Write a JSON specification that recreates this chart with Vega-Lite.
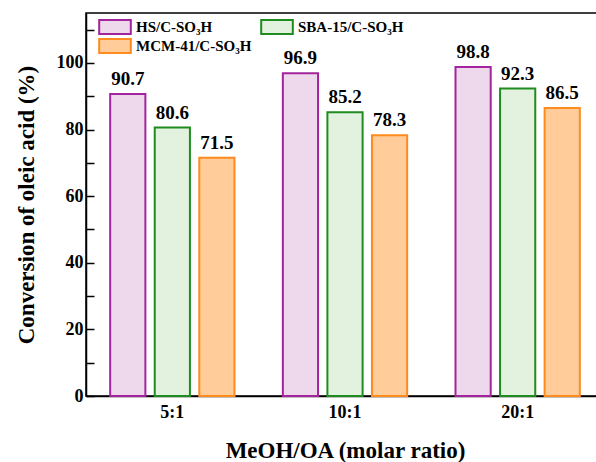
{
  "$schema": "https://vega.github.io/schema/vega-lite/v6.json",
  "autosize": "none",
  "padding": {"left": 86, "top": 13, "right": 0, "bottom": 66},
  "width": 518,
  "height": 383,
  "background": "white",
  "config": {
    "font": "Liberation Serif",
    "view": {"stroke": "black", "strokeWidth": 1.5}
  },
  "data": {
    "values": [
      {"ratio": "5:1", "catalyst": "HS/C-SO₃H", "value": 90.7},
      {"ratio": "5:1", "catalyst": "SBA-15/C-SO₃H", "value": 80.6},
      {"ratio": "5:1", "catalyst": "MCM-41/C-SO₃H", "value": 71.5},
      {"ratio": "10:1", "catalyst": "HS/C-SO₃H", "value": 96.9},
      {"ratio": "10:1", "catalyst": "SBA-15/C-SO₃H", "value": 85.2},
      {"ratio": "10:1", "catalyst": "MCM-41/C-SO₃H", "value": 78.3},
      {"ratio": "20:1", "catalyst": "HS/C-SO₃H", "value": 98.8},
      {"ratio": "20:1", "catalyst": "SBA-15/C-SO₃H", "value": 92.3},
      {"ratio": "20:1", "catalyst": "MCM-41/C-SO₃H", "value": 86.5}
    ]
  },
  "encoding": {
    "x": {
      "field": "ratio", "type": "nominal", "sort": ["5:1", "10:1", "20:1"],
      "scale": {"paddingInner": 0.28, "paddingOuter": 0.14},
      "axis": {
        "title": "MeOH/OA (molar ratio)", "titleFontSize": 23, "titleFontWeight": "bold",
        "titleFont": "Liberation Serif", "titlePadding": 18, "titleColor": "black",
        "labelAngle": 0, "labelFontSize": 18, "labelFontWeight": "bold", "labelColor": "black",
        "labelFont": "Liberation Serif", "labelPadding": 7,
        "ticks": false, "domainColor": "black", "domainWidth": 1.5
      }
    },
    "xOffset": {
      "field": "catalyst", "type": "nominal",
      "sort": ["HS/C-SO₃H", "SBA-15/C-SO₃H", "MCM-41/C-SO₃H"],
      "scale": {"paddingInner": 0.21, "paddingOuter": 0}
    },
    "y": {
      "field": "value", "type": "quantitative",
      "scale": {"domain": [0, 115], "nice": false},
      "axis": {
        "title": "Conversion of oleic acid (%)", "titleFontSize": 23, "titleFontWeight": "bold",
        "titleFont": "Liberation Serif", "titleColor": "black", "titlePadding": 18,
        "values": [0, 10, 20, 30, 40, 50, 60, 70, 80, 90, 100, 110],
        "labelExpr": "datum.value % 20 === 0 ? datum.label : ''",
        "labelFontSize": 18, "labelFontWeight": "bold", "labelColor": "black",
        "labelFont": "Liberation Serif", "labelPadding": 11,
        "tickSize": -8,
        "tickColor": "black", "tickWidth": 1.5,
        "grid": false, "domainColor": "black", "domainWidth": 1.5
      }
    }
  },
  "layer": [
    {
      "mark": {"type": "bar", "strokeWidth": 2},
      "encoding": {
        "fill": {
          "field": "catalyst", "type": "nominal",
          "sort": ["HS/C-SO₃H", "SBA-15/C-SO₃H", "MCM-41/C-SO₃H"],
          "scale": {"domain": ["HS/C-SO₃H", "SBA-15/C-SO₃H", "MCM-41/C-SO₃H"], "range": ["#eed8ec", "#e2f2df", "#ffcc9a"]},
          "legend": {
            "title": null, "orient": "none", "legendX": 12, "legendY": -3, "direction": "horizontal",
            "columns": 2, "gridAlign": "none", "columnPadding": 5, "rowPadding": -9,
            "symbolType": "M-1,-0.44L1,-0.44L1,0.44L-1,0.44Z", "symbolSize": 1000,
            "symbolStrokeWidth": 2, "labelFontSize": 15, "labelFontWeight": "bold",
            "labelFont": "Liberation Serif", "labelColor": "black", "labelOffset": 4
          }
        },
        "stroke": {
          "field": "catalyst", "type": "nominal",
          "sort": ["HS/C-SO₃H", "SBA-15/C-SO₃H", "MCM-41/C-SO₃H"],
          "scale": {"domain": ["HS/C-SO₃H", "SBA-15/C-SO₃H", "MCM-41/C-SO₃H"], "range": ["#a3249c", "#1f8c1f", "#ff8a1e"]},
          "legend": {
            "title": null, "orient": "none", "legendX": 12, "legendY": -3, "direction": "horizontal",
            "columns": 2, "gridAlign": "none", "columnPadding": 5, "rowPadding": -9,
            "symbolType": "M-1,-0.44L1,-0.44L1,0.44L-1,0.44Z", "symbolSize": 1000,
            "symbolStrokeWidth": 2, "labelFontSize": 15, "labelFontWeight": "bold",
            "labelFont": "Liberation Serif", "labelColor": "black", "labelOffset": 4
          }
        }
      }
    },
    {
      "mark": {"type": "text", "dy": -9, "baseline": "alphabetic", "fontSize": 19, "fontWeight": "bold", "font": "Liberation Serif", "color": "black"},
      "encoding": {
        "text": {"field": "value", "type": "quantitative", "format": ".1f"}
      }
    }
  ]
}
